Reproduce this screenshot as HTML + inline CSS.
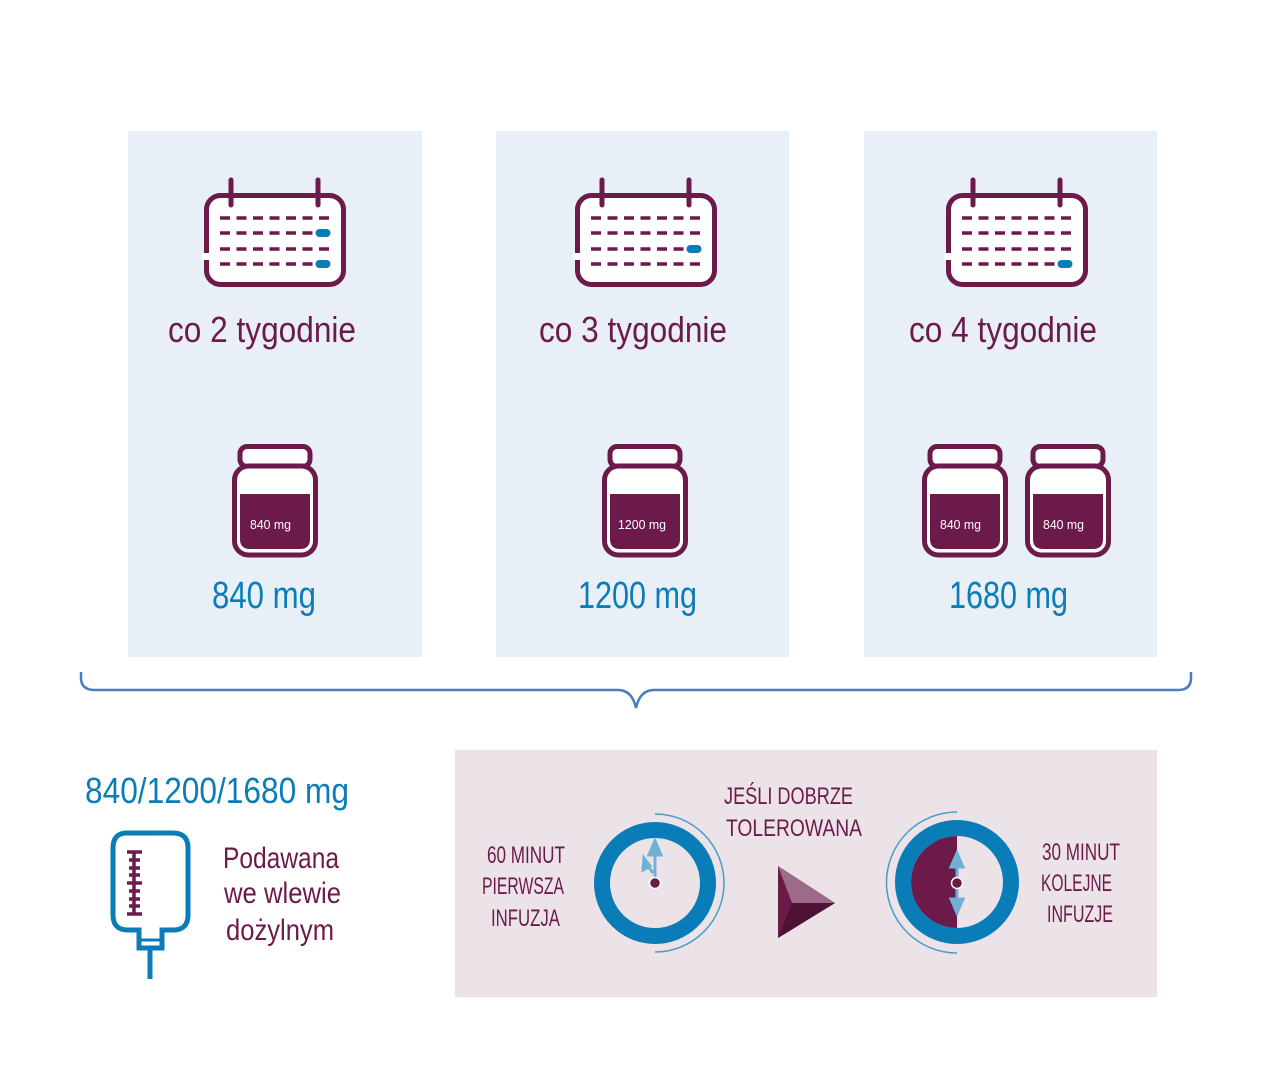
<!DOCTYPE html>
<html><head><meta charset="utf-8"><style>
html,body{margin:0;padding:0;background:#fff}
svg{display:block}
text{font-family:"Liberation Sans",sans-serif}
</style></head><body>
<svg width="1280" height="1072" viewBox="0 0 1280 1072" xmlns="http://www.w3.org/2000/svg">
<defs>
 <g id="cal">
  <rect x="2.5" y="15.5" width="137" height="89" rx="14" fill="#fff" stroke="#6b1a4a" stroke-width="5"/>
  <rect x="-2" y="73" width="8" height="7" fill="#fff"/>
  <line x1="27" y1="0" x2="27" y2="25" stroke="#6b1a4a" stroke-width="5" stroke-linecap="round"/>
  <line x1="114" y1="0" x2="114" y2="25" stroke="#6b1a4a" stroke-width="5" stroke-linecap="round"/>
  <g stroke="#6b1a4a" stroke-width="3.5" stroke-dasharray="10 6.5">
   <line x1="16" y1="38" x2="128" y2="38"/>
   <line x1="16" y1="53" x2="128" y2="53"/>
   <line x1="16" y1="69" x2="128" y2="69"/>
   <line x1="16" y1="84" x2="128" y2="84"/>
  </g>
 </g>
 <g id="pill"><rect x="0" y="-4.5" width="16" height="9" rx="4.5" fill="#0a7db8" stroke="#fff" stroke-width="1"/></g>
 <g id="jar">
  <rect x="8" y="2.5" width="70" height="20" rx="7" fill="#fff" stroke="#6b1a4a" stroke-width="5"/>
  <rect x="2.5" y="22" width="81" height="89" rx="14" fill="#fff" stroke="#6b1a4a" stroke-width="5"/>
  <path d="M8 50 H78 V95 Q78 105 68 105 H18 Q8 105 8 95 Z" fill="#6b1a4a"/>
 </g>
</defs>

<rect x="128" y="131" width="294" height="526" fill="#e8eff7"/>
<rect x="496" y="131" width="293" height="526" fill="#e8eff7"/>
<rect x="864" y="131" width="293" height="526" fill="#e8eff7"/>

<use href="#cal" x="204" y="180"/>
<use href="#pill" x="315" y="233"/>
<use href="#pill" x="315" y="264"/>
<use href="#cal" x="575" y="180"/>
<use href="#pill" x="686" y="249"/>
<use href="#cal" x="946" y="180"/>
<use href="#pill" x="1057" y="264"/>

<g fill="#6b1a4a" font-size="36">
 <text x="168" y="342" textLength="188" lengthAdjust="spacingAndGlyphs">co 2 tygodnie</text>
 <text x="539" y="342" textLength="188" lengthAdjust="spacingAndGlyphs">co 3 tygodnie</text>
 <text x="909" y="342" textLength="188" lengthAdjust="spacingAndGlyphs">co 4 tygodnie</text>
</g>

<use href="#jar" x="232" y="444"/>
<use href="#jar" x="602" y="444"/>
<use href="#jar" x="922" y="444"/>
<use href="#jar" x="1025" y="444"/>
<g fill="#fff" font-size="13">
 <text x="250" y="529" textLength="41" lengthAdjust="spacingAndGlyphs">840 mg</text>
 <text x="618" y="529" textLength="48" lengthAdjust="spacingAndGlyphs">1200 mg</text>
 <text x="940" y="529" textLength="41" lengthAdjust="spacingAndGlyphs">840 mg</text>
 <text x="1043" y="529" textLength="41" lengthAdjust="spacingAndGlyphs">840 mg</text>
</g>
<g fill="#0a7db8" font-size="38">
 <text x="212" y="608" textLength="104" lengthAdjust="spacingAndGlyphs">840 mg</text>
 <text x="578" y="608" textLength="119" lengthAdjust="spacingAndGlyphs">1200 mg</text>
 <text x="949" y="608" textLength="119" lengthAdjust="spacingAndGlyphs">1680 mg</text>
</g>

<path d="M81 672 V678 Q81 690 95 690 H618 Q632 690 636 708 Q640 690 654 690 H1178 Q1191 690 1191 678 V672" fill="none" stroke="#4a7cc0" stroke-width="2.5"/>

<text x="85" y="803" fill="#0a7db8" font-size="36" textLength="264" lengthAdjust="spacingAndGlyphs">840/1200/1680 mg</text>
<g fill="none" stroke="#0a7db8" stroke-width="5">
 <path d="M127 833 H173 Q188 833 188 848 V915 Q188 930 173 930 H162 V948 H139 V930 H128 Q113 930 113 915 V848 Q113 833 127 833 Z"/>
 <line x1="150" y1="948" x2="150" y2="979"/>
 <line x1="139" y1="940" x2="162" y2="940" stroke-width="3"/>
</g>
<g stroke="#6b1a4a" stroke-width="3.5">
 <line x1="134" y1="852" x2="134" y2="914"/>
 <line x1="127" y1="852" x2="142" y2="852"/>
 <line x1="127" y1="883" x2="142" y2="883"/>
 <line x1="127" y1="914" x2="142" y2="914"/>
 <line x1="129" y1="860" x2="140" y2="860"/><line x1="129" y1="868" x2="140" y2="868"/><line x1="129" y1="875" x2="140" y2="875"/>
 <line x1="129" y1="891" x2="140" y2="891"/><line x1="129" y1="899" x2="140" y2="899"/><line x1="129" y1="906" x2="140" y2="906"/>
</g>
<g fill="#6b1a4a" font-size="30">
 <text x="223" y="868" textLength="116" lengthAdjust="spacingAndGlyphs">Podawana</text>
 <text x="224" y="903" textLength="117" lengthAdjust="spacingAndGlyphs">we wlewie</text>
 <text x="226" y="940" textLength="108" lengthAdjust="spacingAndGlyphs">dożylnym</text>
</g>

<rect x="455" y="750" width="702" height="247" fill="#ece3e9"/>
<g fill="#6b1a4a" font-size="24">
 <text x="487" y="863" textLength="78" lengthAdjust="spacingAndGlyphs">60 MINUT</text>
 <text x="482" y="894" textLength="82" lengthAdjust="spacingAndGlyphs">PIERWSZA</text>
 <text x="491" y="926" textLength="69" lengthAdjust="spacingAndGlyphs">INFUZJA</text>
 <text x="724" y="804" textLength="129" lengthAdjust="spacingAndGlyphs">JEŚLI DOBRZE</text>
 <text x="726" y="836" textLength="136" lengthAdjust="spacingAndGlyphs">TOLEROWANA</text>
 <text x="1042" y="860" textLength="78" lengthAdjust="spacingAndGlyphs">30 MINUT</text>
 <text x="1041" y="891" textLength="71" lengthAdjust="spacingAndGlyphs">KOLEJNE</text>
 <text x="1047" y="922" textLength="66" lengthAdjust="spacingAndGlyphs">INFUZJE</text>
</g>

<path d="M655 814 A69 69 0 0 1 655 952" fill="none" stroke="#4a9cc8" stroke-width="1.5"/>
<circle cx="655" cy="883" r="53" fill="#ece3e9" stroke="#0a7db8" stroke-width="16"/>
<g stroke="#6fb0d4" stroke-width="3" fill="#6fb0d4">
 <line x1="655" y1="878" x2="655" y2="848"/>
 <path d="M649 855 L655 841 L661 855 Z"/>
 <line x1="653" y1="873" x2="645" y2="862"/>
 <path d="M643 870 L644 858 L650 866 Z"/>
</g>
<circle cx="655" cy="883" r="5.5" fill="#6b1a4a" stroke="#fff" stroke-width="1.5"/>

<path d="M778 866 L835 903 L778 938 Z" fill="#6b1a4a"/>
<path d="M778 866 L835 903 L792 903 Z" fill="#9d6a88"/>
<path d="M778 938 L835 903 L792 903 Z" fill="#4e1236"/>

<path d="M957 812 A69 69 0 0 0 957 953" fill="none" stroke="#4a9cc8" stroke-width="1.5"/>
<circle cx="957" cy="882" r="54" fill="#ece3e9" stroke="#0a7db8" stroke-width="16"/>
<path d="M957 836 A46 46 0 0 0 957 928 Z" fill="#6b1a4a"/>
<g stroke="#6fb0d4" stroke-width="3" fill="#6fb0d4">
 <line x1="957" y1="860" x2="957" y2="906"/>
 <path d="M951 867 L957 853 L963 867 Z"/>
 <path d="M951 899 L957 913 L963 899 Z"/>
</g>
<circle cx="957" cy="883" r="5.5" fill="#6b1a4a" stroke="#fff" stroke-width="1.5"/>
</svg>
</body></html>
